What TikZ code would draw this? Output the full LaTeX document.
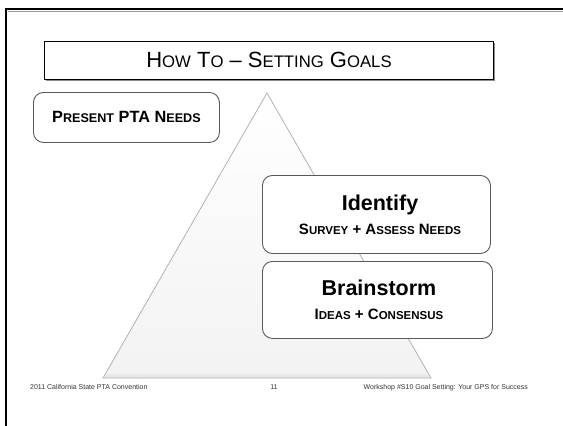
\documentclass[tikz,border=0pt]{standalone}
\usepackage{fontspec}
\setmainfont{Liberation Sans}
\usetikzlibrary{calc}
\newcommand\SCsz{12}
\newcommand\sm[1]{{\fontsize{\SCsz}{\SCsz}\selectfont #1}}
\tikzset{
  rbox/.style={draw=black!65, line width=0.9pt, rounded corners=10pt, fill=white},
  titlebox/.style={draw=black, line width=0.9pt, fill=white},
  txt/.style={inner sep=0pt, anchor=base, text=black},
  foot/.style={inner sep=0pt, anchor=base, text=black!80, font=\fontsize{7}{7}\selectfont},
}
\begin{document}
\begin{tikzpicture}[x=1pt,y=-1pt]
\useasboundingbox (0,0) rectangle (563,426);
\fill[white] (0,0) rectangle (563,426);
% slide frame
\draw[black!40, line width=1pt] (7.5,11) -- (570,11);
\draw[black, line width=2.5pt] (6,440) -- (6,9) -- (570,9);
% title
\fill[black!45] (46,43) rectangle (495,81);
\node[titlebox, minimum width=449pt, minimum height=38pt, anchor=north west] (title) at (44,41) {};
\node[txt] (titletext) at (269,67.5) {\fontsize{22}{22}\selectfont\renewcommand\SCsz{16.7}H\sm{OW} T\sm{O} -- S\sm{ETTING} G\sm{OALS}};
% triangle
\coordinate (apex) at (267,93);
\coordinate (bl) at (103,378);
\coordinate (br) at (431,378);
\shade[top color=white, bottom color=black!5] (apex) -- (br) -- (bl) -- cycle;
\fill[black!9] (bl) -- (br) -- ($(br)+(-5,-4)$) -- ($(bl)+(5,-4)$) -- cycle;
\draw[black!30, line width=0.8pt, line join=miter] (apex) -- (br) -- (bl) -- cycle;
% present box
\node[rbox, minimum width=186pt, minimum height=50pt, anchor=north west] (present) at (33,92) {};
\node[txt, font=\bfseries] (presenttext) at (present.center |- 0,122.3) {\fontsize{16.3}{16.3}\selectfont\renewcommand\SCsz{12.6}P\sm{RESENT} PTA N\sm{EEDS}};
% identify box
\node[rbox, minimum width=228pt, minimum height=78pt, anchor=north west] (identify) at (262,175) {};
\node[txt, font=\bfseries] (idtitle) at (380,210) {\fontsize{21.5}{21.5}\selectfont Identify};
\node[txt, font=\bfseries] (idsub) at (380,234) {\fontsize{15}{15}\selectfont\renewcommand\SCsz{11.5}S\sm{URVEY} + A\sm{SSESS} N\sm{EEDS}};
% brainstorm box
\node[rbox, minimum width=230pt, minimum height=77pt, anchor=north west] (brainstorm) at (262,261) {};
\node[txt, font=\bfseries] (bstitle) at (379,295) {\fontsize{21.5}{21.5}\selectfont Brainstorm};
\node[txt, font=\bfseries] (bssub) at (379,319) {\fontsize{15}{15}\selectfont\renewcommand\SCsz{11.5}I\sm{DEAS} + C\sm{ONSENSUS}};
% footer
\node[foot, anchor=base west] (f1) at (30,389) {2011 California State PTA Convention};
\node[foot] (f2) at (274,389) {11};
\node[foot, anchor=base east] (f3) at (528,389) {Workshop \#S10 Goal Setting: Your GPS for Success};
\end{tikzpicture}
\end{document}
